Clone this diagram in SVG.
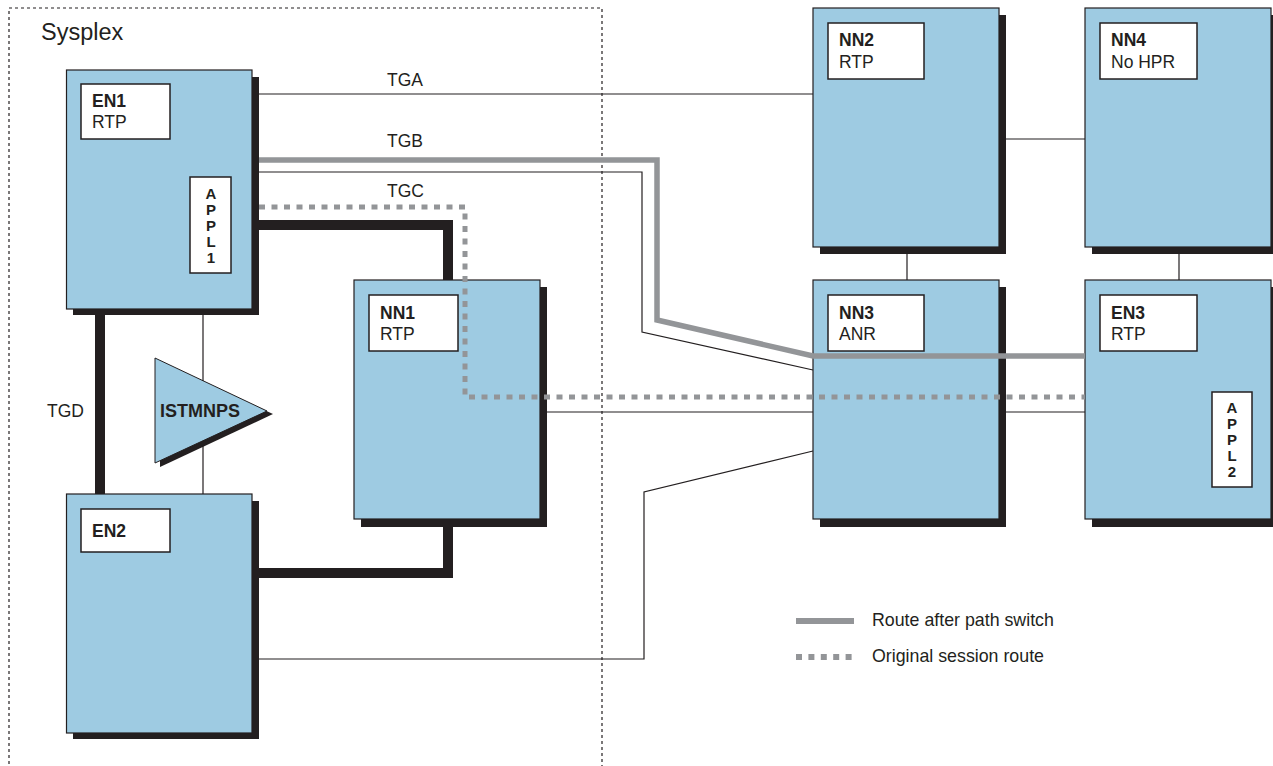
<svg xmlns="http://www.w3.org/2000/svg" width="1273" height="766" viewBox="0 0 1273 766">
<style>
.node{fill:#9ecbe2;stroke:#231f20;stroke-width:1.2}
.shadow{fill:#231f20}
.lbl{fill:#fff;stroke:#231f20;stroke-width:1.5}
text{font-family:"Liberation Sans",Arial,sans-serif;fill:#231f20}
.t{font-size:17.5px}
.b{font-size:17.5px;font-weight:bold}
.ap{font-size:15px;font-weight:bold;text-anchor:middle}
.thin{fill:none;stroke:#231f20;stroke-width:1.2}
.thick{fill:none;stroke:#231f20;stroke-width:10}
.route{fill:none;stroke:#939598;stroke-width:5.5}
.orig{fill:none;stroke:#939598;stroke-width:5;stroke-dasharray:6 6.5}
</style>
<rect x="9" y="8" width="593" height="775" fill="none" stroke="#231f20" stroke-width="1.2" stroke-dasharray="3 3"/>
<text x="41" y="40" style="font-size:23.5px">Sysplex</text>

<g id="EN1">
<rect class="shadow" x="73" y="77" width="186" height="238"/>
<rect class="node" x="66.5" y="70" width="185.5" height="239"/>
<rect class="lbl" x="81" y="84" width="89" height="55"/>
<text class="b" x="92" y="107">EN1</text>
<text class="t" x="92" y="128">RTP</text>
<rect class="lbl" x="190" y="177" width="41" height="96"/>
<text class="ap" x="211" y="199">A</text>
<text class="ap" x="211" y="215">P</text>
<text class="ap" x="211" y="231">P</text>
<text class="ap" x="211" y="247">L</text>
<text class="ap" x="211" y="263">1</text>
</g>

<g id="EN2">
<rect class="shadow" x="73" y="501" width="186" height="238"/>
<rect class="node" x="66.5" y="494" width="185.5" height="239"/>
<rect class="lbl" x="81" y="509" width="89" height="43"/>
<text class="b" x="92" y="537">EN2</text>
</g>

<g id="ISTMNPS">
<polygon class="shadow" points="160,362 273,414 160,467"/>
<polygon points="155,358 267,411 155,463" fill="#9ecbe2" stroke="#231f20" stroke-width="1"/>
<text class="b" x="160" y="417" style="font-size:18px">ISTMNPS</text>
</g>

<g id="NN1">
<rect class="shadow" x="361" y="287" width="186" height="240"/>
<rect class="node" x="354" y="280" width="186" height="239"/>
<rect class="lbl" x="369" y="295" width="89" height="56"/>
<text class="b" x="380" y="319">NN1</text>
<text class="t" x="380" y="340">RTP</text>
</g>

<g id="NN2">
<rect class="shadow" x="820" y="15" width="186" height="239"/>
<rect class="node" x="813" y="8" width="186" height="239"/>
<rect class="lbl" x="828" y="23" width="96" height="56"/>
<text class="b" x="839" y="46">NN2</text>
<text class="t" x="839" y="68">RTP</text>
</g>

<g id="NN4">
<rect class="shadow" x="1092" y="15" width="186" height="239"/>
<rect class="node" x="1085" y="8" width="186" height="239"/>
<rect class="lbl" x="1100" y="23" width="97" height="56"/>
<text class="b" x="1111" y="46">NN4</text>
<text class="t" x="1111" y="68">No HPR</text>
</g>

<g id="NN3">
<rect class="shadow" x="820" y="287" width="186" height="240"/>
<rect class="node" x="813" y="280" width="186" height="239"/>
<rect class="lbl" x="828" y="295" width="96" height="56"/>
<text class="b" x="839" y="319">NN3</text>
<text class="t" x="839" y="340">ANR</text>
</g>

<g id="EN3">
<rect class="shadow" x="1092" y="287" width="186" height="240"/>
<rect class="node" x="1085" y="280" width="186" height="239"/>
<rect class="lbl" x="1100" y="295" width="97" height="56"/>
<text class="b" x="1111" y="319">EN3</text>
<text class="t" x="1111" y="340">RTP</text>
<rect class="lbl" x="1212" y="392" width="40" height="95"/>
<text class="ap" x="1232" y="413">A</text>
<text class="ap" x="1232" y="429">P</text>
<text class="ap" x="1232" y="445">P</text>
<text class="ap" x="1232" y="461">L</text>
<text class="ap" x="1232" y="477">2</text>
</g>

<g id="connectors">
<path class="thin" d="M259 94H813"/>
<path class="thin" d="M259 172H642V332L813 370"/>
<path class="thin" d="M203 315V381M203 444V494"/>
<path class="thin" d="M547 412H813"/>
<path class="thin" d="M259 659H644V492L813 451"/>
<path class="thin" d="M1006 139H1085"/>
<path class="thin" d="M907 254V280"/>
<path class="thin" d="M1179 254V280"/>
<path class="thin" d="M1006 412H1085"/>
<path class="thick" d="M259 225H448V280"/>
<path class="thick" d="M259 573H448V527"/>
<path class="thick" d="M100 315V494"/>
<path class="route" d="M259 160H657V320L813 356H1085"/>
<path class="orig" d="M259 207H465V397H1085"/>
</g>

<g id="labels">
<text class="t" x="387" y="86">TGA</text>
<text class="t" x="387" y="147">TGB</text>
<text class="t" x="387" y="197">TGC</text>
<text class="t" x="47" y="417">TGD</text>
</g>

<g id="legend">
<path class="route" style="stroke-width:6" d="M796 621H854"/>
<path class="orig" style="stroke-width:6;stroke-dasharray:6 6.4" d="M796 657H854"/>
<text class="t" x="872" y="626" style="font-size:17.8px">Route after path switch</text>
<text class="t" x="872" y="662" style="font-size:17.8px">Original session route</text>
</g>
</svg>
